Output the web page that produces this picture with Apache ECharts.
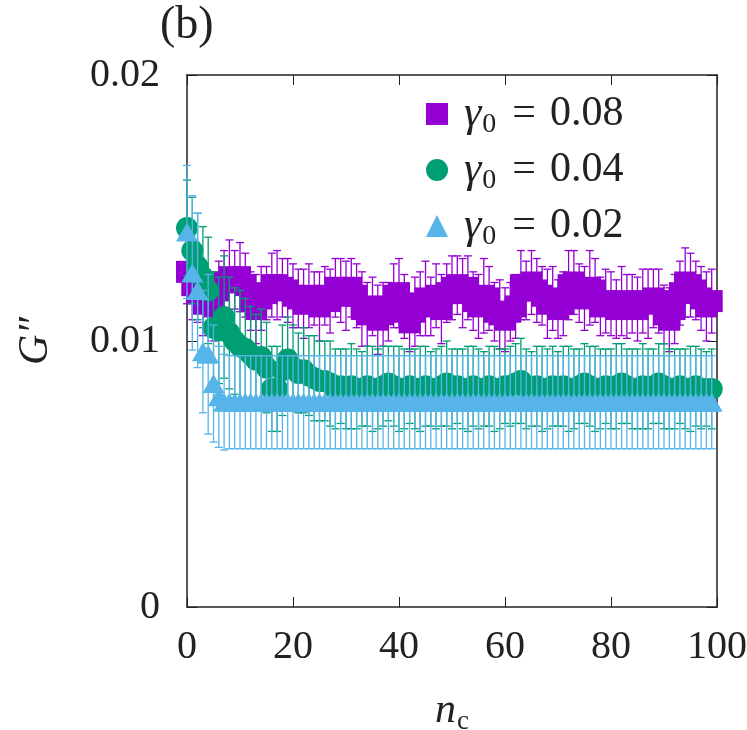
<!DOCTYPE html>
<html><head><meta charset="utf-8">
<script src="https://cdn.jsdelivr.net/npm/echarts@6/dist/echarts.min.js"></script>
<style>html,body{margin:0;padding:0;background:#fff}#c{width:747px;height:730px}</style>
</head><body><div id="c"></div>
<script>
var xTicks = [0, 20, 40, 60, 80, 100];
var yTicks = [0, 0.01, 0.02];
var seriesNames = ['0.08', '0.04', '0.02'];

var nc = [0,1,2,3,4,5,6,7,8,9,10,11,12,13,14,15,16,17,18,19,20,21,22,23,24,25,26,27,28,29,30,31,32,33,34,35,36,37,38,39,40,41,42,43,44,45,46,47,48,49,50,51,52,53,54,55,56,57,58,59,60,61,62,63,64,65,66,67,68,69,70,71,72,73,74,75,76,77,78,79,80,81,82,83,84,85,86,87,88,89,90,91,92,93,94,95,96,97,98,99];

var g008 = [0.0126,0.0121,0.0118,0.0114,0.0116,0.0113,0.0119,0.0122,0.0124,0.0123,
0.0124,0.0121,0.0115,0.0112,0.0116,0.0118,0.0121,0.0121,0.0120,0.0119,
0.0117,0.0116,0.0114,0.0117,0.0116,0.0113,0.0117,0.0115,0.0120,0.0119,
0.0117,0.0120,0.0117,0.0112,0.0110,0.0113,0.0108,0.0110,0.0111,0.0117,
0.0118,0.0113,0.0107,0.0111,0.0114,0.0116,0.0113,0.0117,0.0112,0.0118,
0.0120,0.0121,0.0118,0.0120,0.0115,0.0113,0.0117,0.0116,0.0111,0.0110,
0.0108,0.0111,0.0113,0.0121,0.0119,0.0122,0.0119,0.0117,0.0114,0.0116,
0.0112,0.0114,0.0121,0.0122,0.0118,0.0116,0.0120,0.0119,0.0113,0.0115,
0.0114,0.0112,0.0115,0.0113,0.0114,0.0112,0.0115,0.0114,0.0116,0.0115,
0.0110,0.0108,0.0112,0.0118,0.0122,0.0121,0.0119,0.0116,0.0113,0.0115];
var e008 = [0.0012,0.0013,0.0011,0.0012,0.0010,0.0013,0.0011,0.0012,0.0014,0.0011,
0.0013,0.0012,0.0011,0.0013,0.0012,0.0010,0.0012,0.0013,0.0011,0.0012,
0.0012,0.0011,0.0013,0.0012,0.0010,0.0013,0.0011,0.0012,0.0011,0.0012,
0.0013,0.0011,0.0012,0.0014,0.0012,0.0011,0.0013,0.0012,0.0011,0.0012,
0.0013,0.0012,0.0011,0.0013,0.0012,0.0014,0.0011,0.0012,0.0013,0.0011,
0.0012,0.0011,0.0013,0.0012,0.0011,0.0012,0.0014,0.0012,0.0011,0.0013,
0.0012,0.0011,0.0012,0.0013,0.0011,0.0012,0.0012,0.0011,0.0013,0.0012,
0.0011,0.0012,0.0013,0.0012,0.0011,0.0012,0.0014,0.0012,0.0011,0.0012,
0.0012,0.0011,0.0013,0.0012,0.0011,0.0012,0.0012,0.0013,0.0011,0.0012,
0.0011,0.0012,0.0013,0.0012,0.0013,0.0012,0.0011,0.0012,0.0013,0.0012];

var g004 = [0.01425,0.0134,0.0128,0.0124,0.0119,0.0105,0.0104,0.0109,0.0103,0.0100,
0.0098,0.0097,0.0095,0.0093,0.0094,0.0090,0.0082,0.0082,0.0089,0.0093,
0.0090,0.0088,0.0089,0.0087,0.0086,0.0085,0.0085,0.0084,0.0082,0.0083,
0.0082,0.0083,0.0082,0.0082,0.0083,0.0082,0.0082,0.0083,0.0084,0.0083,
0.0082,0.0082,0.0083,0.0082,0.0082,0.0083,0.0082,0.0082,0.0083,0.0084,
0.0082,0.0083,0.0082,0.0082,0.0083,0.0082,0.0082,0.0083,0.0082,0.0082,
0.0083,0.0083,0.0084,0.0085,0.0082,0.0082,0.0083,0.0082,0.0082,0.0083,
0.0082,0.0083,0.0082,0.0082,0.0083,0.0084,0.0083,0.0082,0.0082,0.0083,
0.0082,0.0083,0.0084,0.0083,0.0082,0.0082,0.0083,0.0082,0.0083,0.0084,
0.0083,0.0082,0.0082,0.0083,0.0082,0.0082,0.0083,0.0082,0.0082,0.0082];
var e004 = [0.0018,0.0020,0.0020,0.0019,0.0020,0.0021,0.0020,0.0023,0.0021,0.0020,
0.0021,0.0019,0.0018,0.0017,0.0018,0.0017,0.0016,0.0016,0.0017,0.0016,
0.0016,0.0015,0.0016,0.0015,0.0016,0.0015,0.0015,0.0016,0.0015,0.0014,
0.0015,0.0016,0.0015,0.0014,0.0015,0.0016,0.0015,0.0015,0.0014,0.0015,
0.0016,0.0015,0.0014,0.0015,0.0016,0.0015,0.0014,0.0015,0.0015,0.0016,
0.0015,0.0014,0.0015,0.0016,0.0015,0.0015,0.0014,0.0015,0.0016,0.0015,
0.0014,0.0015,0.0015,0.0016,0.0015,0.0014,0.0015,0.0016,0.0015,0.0015,
0.0014,0.0015,0.0016,0.0015,0.0014,0.0015,0.0015,0.0016,0.0015,0.0014,
0.0015,0.0016,0.0015,0.0014,0.0015,0.0015,0.0016,0.0015,0.0014,0.0015,
0.0016,0.0015,0.0015,0.0014,0.0015,0.0016,0.0015,0.0015,0.0014,0.0015];

var g002 = [0.0141,0.01256,0.0119,0.0096,0.0095,0.0084,0.0079,0.0077,0.0077,0.0077,
0.0077,0.0077,0.0077,0.0077,0.0077,0.0077,0.0077,0.0077,0.0077,0.0077,
0.0077,0.0077,0.0077,0.0077,0.0077,0.0077,0.0077,0.0077,0.0077,0.0077,
0.0077,0.0077,0.0077,0.0077,0.0077,0.0077,0.0077,0.0077,0.0077,0.0077,
0.0077,0.0077,0.0077,0.0077,0.0077,0.0077,0.0077,0.0077,0.0077,0.0077,
0.0077,0.0077,0.0077,0.0077,0.0077,0.0077,0.0077,0.0077,0.0077,0.0077,
0.0077,0.0077,0.0077,0.0077,0.0077,0.0077,0.0077,0.0077,0.0077,0.0077,
0.0077,0.0077,0.0077,0.0077,0.0077,0.0077,0.0077,0.0077,0.0077,0.0077,
0.0077,0.0077,0.0077,0.0077,0.0077,0.0077,0.0077,0.0077,0.0077,0.0077,
0.0077,0.0077,0.0077,0.0077,0.0077,0.0077,0.0077,0.0077,0.0077,0.0077];
var e002 = [0.0025,0.0029,0.0029,0.0023,0.0030,0.0022,0.0019,0.0018,0.00175,0.00175,
0.00175,0.00175,0.00175,0.00175,0.00175,0.00175,0.00175,0.00175,0.00175,0.00175,
0.00175,0.00175,0.00175,0.00175,0.00175,0.00175,0.00175,0.00175,0.00175,0.00175,
0.00175,0.00175,0.00175,0.00175,0.00175,0.00175,0.00175,0.00175,0.00175,0.00175,
0.00175,0.00175,0.00175,0.00175,0.00175,0.00175,0.00175,0.00175,0.00175,0.00175,
0.00175,0.00175,0.00175,0.00175,0.00175,0.00175,0.00175,0.00175,0.00175,0.00175,
0.00175,0.00175,0.00175,0.00175,0.00175,0.00175,0.00175,0.00175,0.00175,0.00175,
0.00175,0.00175,0.00175,0.00175,0.00175,0.00175,0.00175,0.00175,0.00175,0.00175,
0.00175,0.00175,0.00175,0.00175,0.00175,0.00175,0.00175,0.00175,0.00175,0.00175,
0.00175,0.00175,0.00175,0.00175,0.00175,0.00175,0.00175,0.00175,0.00175,0.00175];

var colors = ['#9400d3', '#009e73', '#56b4e9'];
var FONT = 'Liberation Serif';

function pts(ys) { return nc.map(function (x, i) { return [x, ys[i]]; }); }
function errs(ys, es) { return nc.map(function (x, i) { return [x, ys[i], es[i]]; }); }

function errRender(color) {
  return function (params, api) {
    var x = api.value(0), y = api.value(1), e = api.value(2);
    var t = api.coord([x, y + e]);
    var b = api.coord([x, y - e]);
    var hw = 4;
    var st = { stroke: color, lineWidth: 1.3 };
    return {
      type: 'group',
      children: [
        { type: 'line', shape: { x1: t[0], y1: t[1], x2: b[0], y2: b[1] }, style: st },
        { type: 'line', shape: { x1: t[0] - hw, y1: t[1], x2: t[0] + hw, y2: t[1] }, style: st },
        { type: 'line', shape: { x1: b[0] - hw, y1: b[1], x2: b[0] + hw, y2: b[1] }, style: st }
      ]
    };
  };
}

var labelName = function (v) { return '{g|γ}{s|0}{e|=}{t|' + v + '}'; };

var series = [];
var sets = [[g008, e008, 'rect', 22], [g004, e004, 'circle', 22], [g002, e002, 'triangle', [22, 19]]];
sets.forEach(function (s, k) {
  series.push({
    type: 'custom', name: seriesNames[k] + '_err', renderItem: errRender(colors[k]),
    data: errs(s[0], s[1]), encode: { x: 0, y: 1 }, silent: true, z: 2 + k * 2
  });
  series.push({
    type: 'scatter', name: seriesNames[k], symbol: s[2], symbolSize: s[3],
    itemStyle: { color: colors[k], opacity: 1 }, data: pts(s[0]), z: 3 + k * 2, silent: true
  });
});

var chart = echarts.init(document.getElementById('c'), null, { renderer: 'canvas' });
chart.setOption({
  animation: false,
  backgroundColor: '#fff',
  title: { text: '(b)', left: 155, top: -2, textStyle: { fontFamily: FONT, fontSize: 46, fontWeight: 'normal', color: '#222' } },
  grid: { left: 187, right: 30, top: 75, bottom: 123, containLabel: false, outerBoundsMode: 'none' },
  legend: {
    data: seriesNames.map(function (n, k) { return { name: n, icon: ['rect', 'circle', 'triangle'][k] }; }),
    orient: 'vertical', left: 421, top: 84, itemWidth: 22, itemHeight: 22, itemGap: 6,
    formatter: function (n) { return labelName(n); },
    textStyle: {
      fontFamily: FONT, fontSize: 40, color: '#222', padding: [0, 0, 0, 11],
      rich: {
        g: { fontFamily: FONT, fontSize: 44, fontStyle: 'italic', lineHeight: 48, color: '#222' },
        s: { fontFamily: FONT, fontSize: 28, lineHeight: 26, padding: [22, 0, 0, 1], color: '#222' },
        e: { fontFamily: FONT, fontSize: 42, lineHeight: 48, padding: [0, 14, 0, 16], color: '#222' },
        t: { fontFamily: FONT, fontSize: 42, lineHeight: 48, color: '#222' }
      }
    }
  },
  xAxis: [{
    type: 'value', min: 0, max: 100, interval: 20,
    axisLine: { show: true, onZero: false, lineStyle: { color: '#222', width: 1.5 } },
    axisTick: { inside: true, length: 10, lineStyle: { color: '#222', width: 1 } },
    splitLine: { show: false },
    axisLabel: { fontFamily: FONT, fontSize: 40, color: '#222', margin: 20,
      formatter: function (v) { return xTicks.indexOf(v) >= 0 ? String(v) : ''; } },
    name: '{i|n}{s|c}', nameLocation: 'middle', nameGap: 80,
    nameTextStyle: { rich: {
      i: { fontFamily: FONT, fontSize: 42, fontStyle: 'italic', lineHeight: 48, color: '#222' },
      s: { fontFamily: FONT, fontSize: 27, lineHeight: 26, padding: [22, 0, 0, 1], color: '#222' } } }
  }, {
    type: 'value', position: 'top', min: 0, max: 100, interval: 20,
    axisLine: { show: true, onZero: false, lineStyle: { color: '#222', width: 1.5 } },
    axisTick: { inside: true, length: 10, lineStyle: { color: '#222', width: 1 } },
    axisLabel: { show: false }, splitLine: { show: false }
  }],
  yAxis: [{
    type: 'value', min: 0, max: 0.02, interval: 0.01,
    axisLine: { show: true, onZero: false, lineStyle: { color: '#222', width: 1.5 } },
    axisTick: { inside: true, length: 10, lineStyle: { color: '#222', width: 1 } },
    splitLine: { show: false },
    axisLabel: { fontFamily: FONT, fontSize: 40, color: '#222', margin: 27,
      formatter: function (v) { var i = [0, 1, 2].filter(function (k) { return Math.abs(yTicks[k] - v) < 1e-9; }); return i.length ? (v === 0 ? '0' : v.toFixed(2)) : ''; } },
    name: 'G″', nameLocation: 'middle', nameGap: 130, nameRotate: 90,
    nameTextStyle: { fontFamily: FONT, fontSize: 42, fontStyle: 'italic', color: '#222' }
  }, {
    type: 'value', position: 'right', min: 0, max: 0.02, interval: 0.01,
    axisLine: { show: true, onZero: false, lineStyle: { color: '#222', width: 1.5 } },
    axisTick: { inside: true, length: 10, lineStyle: { color: '#222', width: 1 } },
    axisLabel: { show: false }, splitLine: { show: false }
  }],
  series: series
});
</script></body></html>
